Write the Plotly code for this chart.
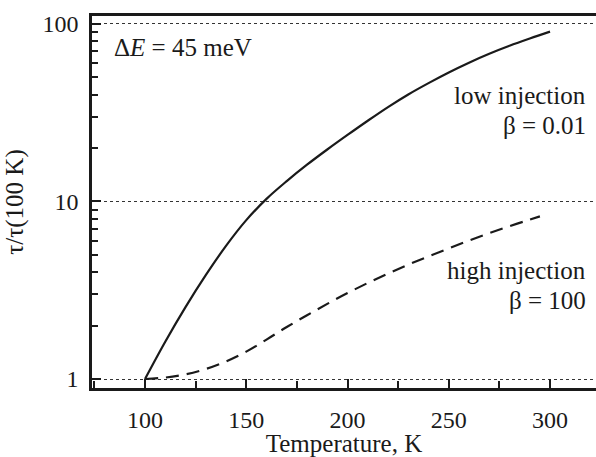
import plotly.graph_objects as go

# Data
T_low = [100, 110, 120, 130, 140, 150, 160, 170, 180, 190, 200, 210, 220, 230, 240, 250, 260, 270, 280, 290, 300]
tau_low = [1.0, 1.622, 2.541, 3.846, 5.623, 7.852, 10.35, 13.03, 16.11, 19.63, 23.71, 28.51, 34.04, 40.09,
           46.45, 53.33, 60.53, 67.92, 75.34, 82.79, 90.57]

T_high = [100, 110, 120, 130, 140, 150, 160, 170, 180, 190, 200, 210, 220, 230, 240, 250, 260, 270, 280, 290, 295]
tau_high = [1.0, 1.019, 1.062, 1.138, 1.256, 1.426, 1.667, 1.963, 2.286, 2.649, 3.048, 3.475, 3.926, 4.406,
            4.909, 5.445, 6.026, 6.637, 7.261, 7.907, 8.241]

x_ticks = [100, 150, 200, 250, 300]
y_ticks = [1, 10, 100]
y_ticklabels = ["1", "10", "100"]
y_minor = [2, 3, 4, 5, 6, 7, 8, 9, 20, 30, 40, 50, 60, 70, 80, 90]

FONT = "Liberation Serif, Times New Roman, Times, serif"
INK = "#1a1a1a"

fig = go.Figure()
fig.add_trace(go.Scatter(x=T_low, y=tau_low, mode="lines",
                         line=dict(color=INK, width=2.2, shape="spline"),
                         showlegend=False))
fig.add_trace(go.Scatter(x=T_high, y=tau_high, mode="lines",
                         line=dict(color=INK, width=2.2, dash="13px,8px", shape="spline"),
                         showlegend=False))

fig.update_layout(
    width=596, height=457,
    margin=dict(l=92, r=0, t=16, b=69),
    plot_bgcolor="white", paper_bgcolor="white",
    font=dict(family=FONT, size=24, color=INK),
    xaxis=dict(
        range=[73.83, 322.7],
        tickvals=x_ticks,
        ticks="inside", ticklen=9, tickwidth=1.5, tickcolor=INK,
        minor=dict(dtick=25, tick0=100, ticks="inside", ticklen=7, tickwidth=1.5, tickcolor=INK, showgrid=False),
        showline=True, linewidth=2.5, linecolor=INK, mirror=True,
        showgrid=False, zeroline=False,
        title=dict(text="Temperature, K", font=dict(family=FONT, size=25), standoff=4),
        tickfont=dict(family=FONT, size=24),
        ticklabelstandoff=8,
    ),
    yaxis=dict(
        type="log",
        range=[-0.0507, 2.045],
        tickvals=y_ticks, ticktext=y_ticklabels,
        ticks="inside", ticklen=9, tickwidth=1.5, tickcolor=INK,
        minor=dict(tickvals=y_minor, ticks="inside", ticklen=6, tickwidth=1.5, tickcolor=INK, showgrid=False),
        showline=True, linewidth=2.5, linecolor=INK, mirror=False,
        showgrid=True, gridcolor="#333333", gridwidth=1, griddash="dot",
        zeroline=False,
        title=dict(text="τ/τ(100 K)", font=dict(family=FONT, size=25), standoff=12),
        tickfont=dict(family=FONT, size=24),
        ticklabelstandoff=6,
    ),
)

ann_font = dict(family=FONT, size=25, color=INK)
fig.add_annotation(x=0.04, y=0.915, xref="paper", yref="paper", xanchor="left", yanchor="middle",
                   text="Δ<i>E</i> = 45 meV", showarrow=False, font=ann_font)
fig.add_annotation(x=0.985, y=0.785, xref="paper", yref="paper", xanchor="right", yanchor="middle",
                   text="low injection", showarrow=False, font=ann_font)
fig.add_annotation(x=0.985, y=0.705, xref="paper", yref="paper", xanchor="right", yanchor="middle",
                   text="β = 0.01", showarrow=False, font=ann_font)
fig.add_annotation(x=0.985, y=0.317, xref="paper", yref="paper", xanchor="right", yanchor="middle",
                   text="high injection", showarrow=False, font=ann_font)
fig.add_annotation(x=0.985, y=0.234, xref="paper", yref="paper", xanchor="right", yanchor="middle",
                   text="β = 100", showarrow=False, font=ann_font)

fig.write_html("out.html")
